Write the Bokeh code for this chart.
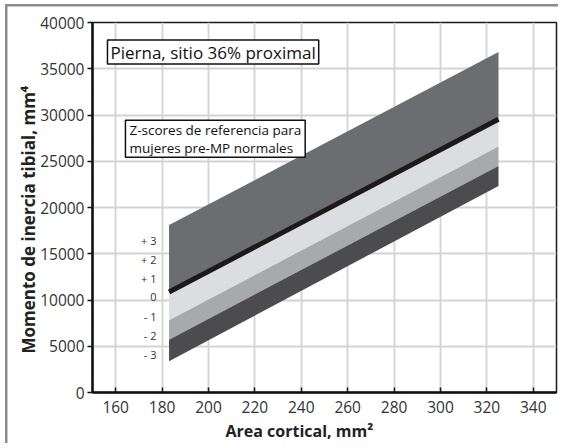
from bokeh.plotting import figure
from bokeh.models import FixedTicker, Label, Title
from bokeh.embed import file_html
from bokeh.resources import INLINE
from bokeh.core.properties import value

# ---- data ----
x_edges = [183, 325]
z_plus3 = [18100, 36800]
z_mean = [10860, 29540]
z_minus1 = [7800, 26590]
z_minus2 = [5710, 24500]
z_minus3 = [3390, 22330]

z_labels = ["+ 3", "+ 2", "+ 1", "0", "- 1", "- 2", "- 3"]
z_label_y = [16380, 14330, 12290, 10280, 8230, 6190, 4110]
z_label_x = [177.6, 177.6, 177.6, 177.6, 177.6, 177.6, 177.6]

x_ticks = [160, 180, 200, 220, 240, 260, 280, 300, 320, 340]
y_ticks = [0, 5000, 10000, 15000, 20000, 25000, 30000, 35000, 40000]

title_text = "Pierna, sitio 36% proximal"
note_text = "Z-scores de referencia para\nmujeres pre-MP normales"
x_title = "Area cortical, mm²"
y_title = "Momento de inercia tibial, mm⁴"

FONT = "Open Sans"

p = figure(frame_width=464, frame_height=370, x_range=(150, 350), y_range=(0, 40000),
           output_backend="svg", toolbar_location=None,
           min_border_left=87, min_border_right=2, min_border_top=18, min_border_bottom=48)

# grey rule along the left and top edges of the chart only
GREY = "#8c8c8c"
p.styles = {"margin-left": "5px", "margin-top": "4px",
            "background-color": "white",
            "background-image": f"linear-gradient({GREY}, {GREY}), linear-gradient({GREY}, {GREY})",
            "background-size": "2.5px 100%, 100% 2.5px",
            "background-repeat": "no-repeat, no-repeat",
            "background-position": "left top, left top"}

p.background_fill_color = "white"
p.border_fill_color = None
p.outline_line_color = "#1a1a1a"
p.outline_line_width = 1.5

# grid
p.xgrid.ticker = FixedTicker(ticks=x_ticks)
p.ygrid.ticker = FixedTicker(ticks=y_ticks)
for g in (p.xgrid, p.ygrid):
    g.grid_line_color = "#d3d3d3"
    g.grid_line_width = 1.8

# axes
p.xaxis.ticker = FixedTicker(ticks=x_ticks)
p.yaxis.ticker = FixedTicker(ticks=y_ticks)
for ax in (p.xaxis, p.yaxis):
    ax.axis_line_color = "#111111"
    ax.axis_line_width = 2.5
    ax.major_tick_line_color = "#111111"
    ax.major_tick_line_width = 1.5
    ax.minor_tick_line_color = None
    ax.major_label_text_font = FONT
    ax.major_label_text_font_size = "15.5px"
    ax.major_label_text_color = "#333333"

p.xaxis.major_tick_in = 5
p.xaxis.major_tick_out = 0
p.xaxis.major_label_standoff = 8

p.yaxis.major_tick_in = 0
p.yaxis.major_tick_out = 5
p.yaxis.major_label_standoff = 3

# axis titles (offset along the axis as in the reference)
xt = Title(text=x_title, align="left", offset=133, standoff=4,
           text_font=FONT, text_font_size="16px", text_font_style="bold", text_color="#222222")
yt = Title(text=y_title, align="left", offset=39, standoff=-4,
           text_font=FONT, text_font_size="17px", text_font_style="bold", text_color="#222222")
p.add_layout(xt, "below")
p.add_layout(yt, "left")

# bands
p.varea(x=x_edges, y1=z_mean, y2=z_plus3, fill_color="#6c6d71")
p.varea(x=x_edges, y1=z_minus1, y2=z_mean, fill_color="#dcdde0")
p.varea(x=x_edges, y1=z_minus2, y2=z_minus1, fill_color="#a7a9ac")
p.varea(x=x_edges, y1=z_minus3, y2=z_minus2, fill_color="#4c4c4e")
p.line(x=x_edges, y=z_mean, line_color="#1e1a1b", line_width=5)

# z labels
p.text(x=z_label_x, y=z_label_y, text=z_labels, text_align="right", text_baseline="middle",
       text_font=value(FONT), text_font_size="11px", text_color="#333333")

# boxed texts
lab1 = Label(x=156.45, y=38104, text=title_text, text_align="left", text_baseline="top",
             text_font=FONT, text_font_size="17px", text_color="#111111",
             padding=dict(left=3, right=3, top=1, bottom=0), background_fill_color="white",
             border_line_color="#111111", border_line_width=1.5)
lab2 = Label(x=164.2, y=29444, text=note_text, text_align="left", text_baseline="top",
             text_font=FONT, text_font_size="13.5px", text_color="#111111",
             text_line_height=1.0,
             padding=dict(left=4, right=4, top=1, bottom=0), background_fill_color="white",
             border_line_color="#111111", border_line_width=1.5)
p.add_layout(lab1)
p.add_layout(lab2)

open("out.html", "w").write(file_html(p, INLINE))
